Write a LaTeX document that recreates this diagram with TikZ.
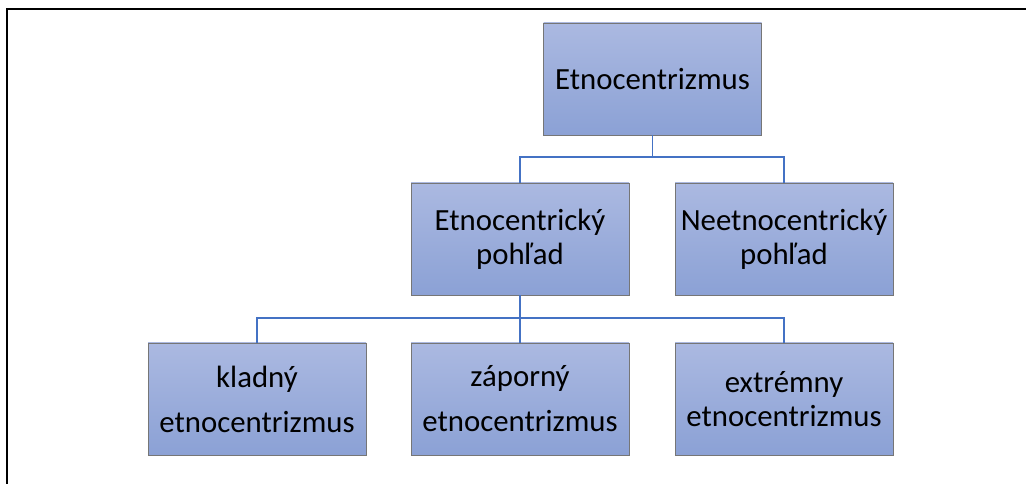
\documentclass[tikz,border=0pt]{standalone}
\usepackage{fontspec}
\setmainfont{Carlito}
\usepackage{xcolor}
\usepackage{tikz}
\usetikzlibrary{positioning}
\definecolor{boxtop}{RGB}{171,185,225}
\definecolor{boxbot}{RGB}{139,161,213}
\definecolor{boxline}{RGB}{118,118,118}
\definecolor{linkblue}{RGB}{68,114,196}

\begin{document}
\begin{tikzpicture}[
		x=1pt, y=1pt,
		box/.style={rectangle, draw=boxline, line width=0.8pt, top color=boxtop, bottom color=boxbot,
			minimum width=218pt, minimum height=112pt, inner sep=0pt, align=center,
			font=\fontsize{30.8}{34}\selectfont},
		link/.style={draw=linkblue, line width=1.9pt}
		]
		\useasboundingbox (0,0) rectangle (1026,484);
		\draw[line width=1.5pt] (7,0) -- (7,475) -- (1026,475);
		
		\node[box] (root) at (652.5,405) {Etnocentrizmus};
		\node[box] (etno) at (520,245) {Etnocentrický\\pohľad};
		\node[box] (neetno) at (784,245) {Neetnocentrický\\pohľad};
		\foreach \name/\x/\txt in {klad/257/{kladný\\[11pt]etnocentrizmus},
			zap/520/{záporný\\[11pt]etnocentrizmus},
			extr/784/{extrémny\\etnocentrizmus}}
		\node[box] (\name) at (\x,85) {\txt};
		
		\coordinate (j1) at (652.5,327);
		\coordinate (j2) at (520,166);
		\draw[link] (root.south) -- (j1);
		\draw[link] (etno.north) |- (j1) -| (neetno.north);
		\draw[link] (etno.south) -- (j2);
		\foreach \name in {klad,zap,extr}
			\draw[link] (j2) -| (\name.north);
	\end{tikzpicture}
\end{document}
